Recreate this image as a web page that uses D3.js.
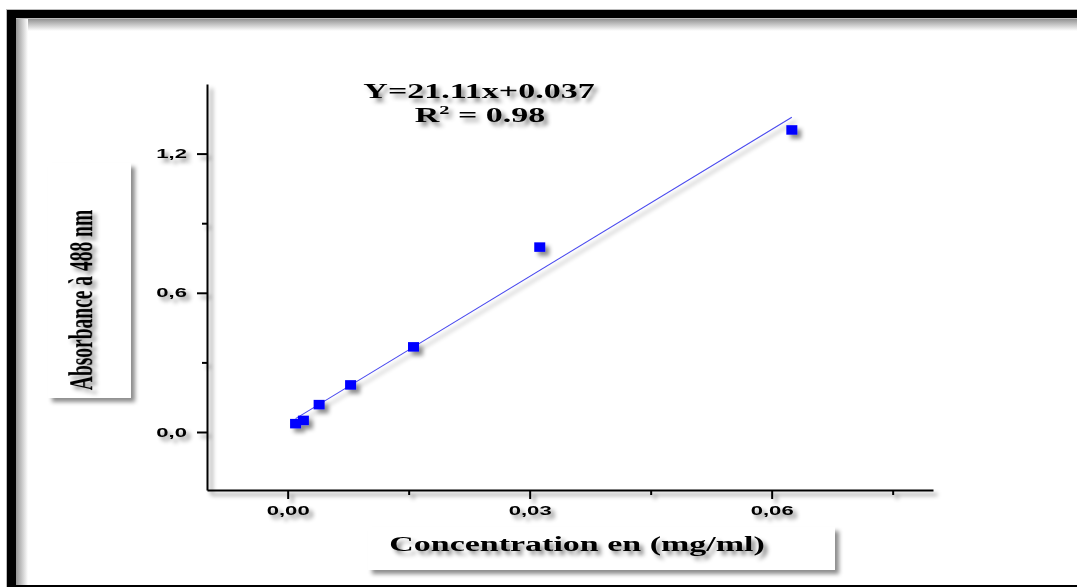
<!DOCTYPE html>
<html>
<head>
<meta charset="utf-8">
<script src="https://cdn.jsdelivr.net/npm/d3@7"></script>
<style>
  html, body { margin: 0; padding: 0; background: #fff; }
  svg { display: block; }
</style>
</head>
<body>
<svg id="chart" width="1077" height="587"></svg>
<script>
// Calibration standards: concentration (mg/ml) and absorbance at 488 nm
const concentrations = [0.00098, 0.00195, 0.0039, 0.0078, 0.0156, 0.03125, 0.0625];
const absorbances    = [0.036, 0.050, 0.118, 0.203, 0.367, 0.797, 1.302];

// Linear fit reported on the chart
const fitSlope = 21.11;
const fitIntercept = 0.037;
const equationText = "Y=21.11x+0.037";
const r2Value = "0.98";

// Axis ticks
const xMajorTicks = [0, 0.03, 0.06];
const xMinorTicks = [0.015, 0.045, 0.075];
const yMajorTicks = [0, 0.6, 1.2];
const yMinorTicks = [0.3, 0.9];

const xTitle = "Concentration en (mg/ml)";
const yTitle = "Absorbance à 488 nm";

const W = 1077, H = 587;
const STRETCH = 1.7; // wide glyph rendering used throughout the figure
const svg = d3.select("#chart");
const defs = svg.append("defs");

// Soft offset shadow used on every drawn element
const shadow = defs.append("filter").attr("id", "shadow")
  .attr("x", "-20%").attr("y", "-20%").attr("width", "150%").attr("height", "150%");
shadow.append("feDropShadow").attr("dx", 4).attr("dy", 4)
  .attr("stdDeviation", 2.2).attr("flood-color", "#000").attr("flood-opacity", 0.45);

// Inner fade along the frame edges
const gTop = defs.append("linearGradient").attr("id", "fadeTop")
  .attr("x1", 0).attr("y1", 0).attr("x2", 0).attr("y2", 1);
gTop.append("stop").attr("offset", 0).attr("stop-color", "#8a8a8a");
gTop.append("stop").attr("offset", 1).attr("stop-color", "#ffffff");
const gLeft = defs.append("linearGradient").attr("id", "fadeLeft")
  .attr("x1", 0).attr("y1", 0).attr("x2", 1).attr("y2", 0);
gLeft.append("stop").attr("offset", 0).attr("stop-color", "#8a8a8a");
gLeft.append("stop").attr("offset", 1).attr("stop-color", "#ffffff");

svg.append("rect").attr("width", W).attr("height", H).attr("fill", "#fff");

// Frame
svg.append("rect").attr("x", 15).attr("y", 18).attr("width", W - 15).attr("height", 13).attr("fill", "url(#fadeTop)");
svg.append("rect").attr("x", 15).attr("y", 18).attr("width", 13).attr("height", H - 18).attr("fill", "url(#fadeLeft)");
svg.append("rect").attr("x", 6.5).attr("y", 9.5).attr("width", W - 6).attr("height", 9).attr("fill", "#000").attr("stroke", "#bbb").attr("stroke-width", 1);
svg.append("rect").attr("x", 6.5).attr("y", 9.5).attr("width", 9).attr("height", H - 9).attr("fill", "#000").attr("stroke", "#bbb").attr("stroke-width", 1);
svg.append("rect").attr("x", 7).attr("y", 10).attr("width", 9).attr("height", H - 10).attr("fill", "#000");
svg.append("rect").attr("x", 15).attr("y", 585).attr("width", W - 15).attr("height", 2).attr("fill", "#000");

// Scales
const x = d3.scaleLinear().domain([-0.01, 0.08]).range([207, 933]);
const y = d3.scaleLinear().domain([-0.25, 1.5]).range([490, 84]);

const fmtX = v => d3.format(".2f")(v).replace(".", ",");
const fmtY = v => d3.format(".1f")(v).replace(".", ",");

// Title boxes
function box(x0, y0, w, h) {
  svg.append("rect").attr("x", x0).attr("y", y0).attr("width", w).attr("height", h)
    .attr("fill", "#fff").attr("filter", "url(#shadow)");
}
box(48, 163, 83, 235);
box(368, 527, 467, 43);

const g = svg.append("g").attr("filter", "url(#shadow)");

// Axes
const axisStyle = sel => {
  sel.selectAll("path.domain").attr("stroke", "#000").attr("stroke-width", 2);
  sel.selectAll(".tick line").attr("stroke", "#000").attr("stroke-width", 2);
};
const sans = "'Liberation Sans', Arial, sans-serif";

const yAxis = g.append("g").attr("transform", `translate(${x.range()[0]},0)`)
  .call(d3.axisLeft(y).tickValues(yMajorTicks).tickSize(10).tickSizeOuter(0).tickPadding(10).tickFormat(fmtY));
yAxis.call(axisStyle);
yAxis.selectAll(".tick text")
  .attr("font-family", sans).attr("font-weight", "bold").attr("font-size", 13).attr("fill", "#000")
  .each(function () {
    const t = d3.select(this);
    const tx = +t.attr("x");
    t.attr("x", 0).attr("transform", `translate(${tx},0) scale(${STRETCH},1)`);
  });
g.append("g").attr("transform", `translate(${x.range()[0]},0)`)
  .call(d3.axisLeft(y).tickValues(yMinorTicks).tickSize(5).tickSizeOuter(0).tickFormat(""))
  .call(s => s.select("path.domain").remove())
  .call(axisStyle);

const xAxis = g.append("g").attr("transform", `translate(0,${y.range()[0]})`)
  .call(d3.axisBottom(x).tickValues(xMajorTicks).tickSize(9).tickSizeOuter(0).tickPadding(7).tickFormat(fmtX));
xAxis.call(axisStyle);
xAxis.selectAll(".tick text")
  .attr("font-family", sans).attr("font-weight", "bold").attr("font-size", 13).attr("fill", "#000")
  .each(function () {
    const t = d3.select(this);
    const ty = +t.attr("y");
    t.attr("y", 0).attr("transform", `translate(0,${ty}) scale(${STRETCH},1)`);
  });
g.append("g").attr("transform", `translate(0,${y.range()[0]})`)
  .call(d3.axisBottom(x).tickValues(xMinorTicks).tickSize(5).tickSizeOuter(0).tickFormat(""))
  .call(s => s.select("path.domain").remove())
  .call(axisStyle);

// Fitted line across the calibration range
const xExt = d3.extent(concentrations);
g.append("line")
  .attr("x1", x(xExt[0])).attr("y1", y(fitSlope * xExt[0] + fitIntercept))
  .attr("x2", x(xExt[1])).attr("y2", y(fitSlope * xExt[1] + fitIntercept))
  .attr("stroke", "#4a4aee").attr("stroke-width", 1.1);

// Measured points
const pts = concentrations.map((c, i) => ({ c, a: absorbances[i] }));
const sw = 11, sh = 9.5;
g.selectAll("rect.pt").data(pts).join("rect").attr("class", "pt")
  .attr("x", d => x(d.c) - sw / 2).attr("y", d => y(d.a) - sh / 2)
  .attr("width", sw).attr("height", sh).attr("fill", "#0000ff");

// Regression annotation
const serif = "'Liberation Serif', 'Times New Roman', serif";
g.append("text").attr("transform", `translate(479,98) scale(${STRETCH},1)`)
  .attr("text-anchor", "middle").attr("font-family", serif).attr("font-weight", "bold")
  .attr("font-size", 20).text(equationText);
const r2 = g.append("text").attr("transform", `translate(480,122) scale(${STRETCH},1)`)
  .attr("text-anchor", "middle").attr("font-family", serif).attr("font-weight", "bold")
  .attr("font-size", 20);
r2.append("tspan").text("R");
r2.append("tspan").attr("font-size", 12).attr("dy", -8).text("2");
r2.append("tspan").attr("dy", 8).text(" = " + r2Value);

// Axis titles
g.append("text").attr("transform", `translate(577,551) scale(${STRETCH},1)`)
  .attr("text-anchor", "middle").attr("font-family", serif).attr("font-weight", "bold")
  .attr("font-size", 20).text(xTitle);
g.append("text").attr("transform", `translate(92,300) scale(${STRETCH},1) rotate(-90)`)
  .attr("text-anchor", "middle").attr("font-family", serif).attr("font-weight", "bold")
  .attr("font-size", 19.5).text(yTitle);
</script>
</body>
</html>
